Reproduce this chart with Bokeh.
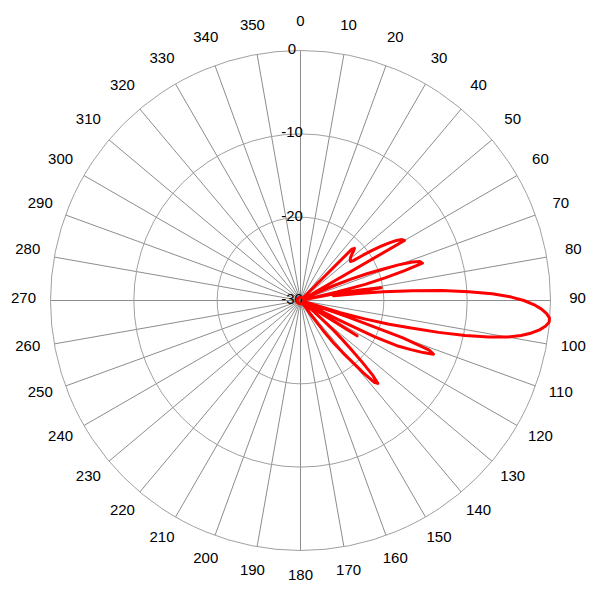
import math
from bokeh.plotting import figure
from bokeh.models import Range1d
from bokeh.core.properties import value
from bokeh.embed import file_html
from bokeh.resources import INLINE

# ---- data ----
ANGLE_DEG = [0, 10, 20, 30, 40, 41, 42, 43, 44, 45, 46, 47, 48, 49,
             50, 51, 52, 53, 54, 55, 56, 57, 58, 59,
             60, 61, 62, 63, 64, 65, 66, 67, 68, 69,
             70, 71, 72, 73, 74, 75, 76, 77, 78, 79,
             80, 81, 82, 83, 84, 85, 86, 87, 88, 89,
             90, 91, 92, 93, 94, 95, 96, 97, 98, 99,
             100, 101, 102, 103, 104, 105, 106, 107, 108, 109,
             110, 111, 112, 113, 114, 115, 116, 117, 118, 119,
             120, 121, 122, 123, 124, 125, 126, 127, 128, 129,
             130, 131, 132, 133, 134, 135, 136, 137, 138, 139,
             140, 141, 142, 143, 144, 145, 146,
             150, 160, 170, 180, 190, 200, 210, 220, 230, 240,
             250, 260, 270, 280, 290, 300, 310, 320, 330, 340, 350, 360]
GAIN_DB = [-29.6, -29.6, -29.6, -29.6, -29.6, -29.6, -29.6, -29.6, -29.5, -21.3, -21.0, -21.3, -21.7, -22.0,
           -22.2, -22.3, -22.4, -22.0, -20.8, -19.5, -18.4, -17.3, -16.4, -15.8,
           -15.6, -29.5, -29.6, -29.6, -29.6, -28.0, -25.5, -23.5, -21.5, -19.8,
           -17.5, -15.8, -14.9, -14.7, -17.0, -19.5, -22.0, -25.5, -29.5, -26.0,
           -22.5, -20.2, -26.0, -23.0, -20.0, -16.5, -13.0, -9.8, -7.0, -4.8,
           -3.2, -2.0, -1.1, -0.45, -0.05, -0.05, -0.45, -1.1, -2.0, -3.2,
           -4.8, -7.0, -9.8, -13.0, -16.5, -19.0, -22.0, -25.0, -29.5, -24.0,
           -17.0, -13.5, -12.8, -14.0, -15.5, -17.0, -20.0, -25.0, -29.5, -29.6,
           -29.6, -28.0, -22.0, -29.0, -29.6, -29.6, -29.6, -29.6, -29.6, -29.6,
           -28.0, -26.5, -24.6, -23.2, -21.5, -19.5, -17.5, -16.4, -16.8, -18.5,
           -20.5, -22.0, -23.5, -25.5, -28.0, -29.6, -29.6,
           -29.6, -29.6, -29.6, -29.6, -29.6, -29.6, -29.6, -29.6, -29.6, -29.6,
           -29.6, -29.6, -29.6, -29.6, -29.6, -29.6, -29.6, -29.6, -29.6, -29.6, -29.6, -29.6]

RING_DB = [0, -10, -20, -30]
RING_LABELS = ["0", "-10", "-20", "-30"]
SPOKE_DEG = [0, 10, 20, 30, 40, 50, 60, 70, 80, 90, 100, 110, 120, 130, 140, 150, 160, 170,
             180, 190, 200, 210, 220, 230, 240, 250, 260, 270, 280, 290, 300, 310, 320, 330, 340, 350]
SPOKE_LABELS = [str(a) for a in SPOKE_DEG]

DB_MIN, DB_MAX = -30.0, 0.0
R_OUT = 250.0          # pixel radius of the 0 dB ring
LABEL_R = 277.0
FONT = value("Liberation Sans")


def rad(db):
    return (db - DB_MIN) / (DB_MAX - DB_MIN) * R_OUT


p = figure(width=600, height=600, output_backend="svg", toolbar_location=None,
           x_range=Range1d(-300, 300), y_range=Range1d(-300, 300),
           x_axis_type=None, y_axis_type=None, min_border=0)
p.outline_line_color = None
p.grid.visible = False
p.background_fill_color = "white"
p.border_fill_color = "white"

# spokes
sx = [R_OUT * math.sin(math.radians(a)) for a in SPOKE_DEG]
sy = [R_OUT * math.cos(math.radians(a)) for a in SPOKE_DEG]
p.segment(x0=[0] * len(sx), y0=[0] * len(sy), x1=sx, y1=sy, line_color="#6e6e6e", line_width=0.8)

# rings
ring_r = [rad(d) for d in RING_DB if rad(d) > 0]
p.circle(x=[0] * len(ring_r), y=[0] * len(ring_r), radius=ring_r,
         fill_color=None, line_color="#a0a0a0", line_width=1)

# angle labels
lx = [LABEL_R * math.sin(math.radians(a)) for a in SPOKE_DEG]
ly = [LABEL_R * math.cos(math.radians(a)) + 3 for a in SPOKE_DEG]
p.text(x=lx, y=ly, text=SPOKE_LABELS, text_font=FONT, text_font_size="15px",
       text_align="center", text_baseline="middle", text_color="black")

# radial labels
rx = [-8.5] * len(RING_DB)
ry = [rad(d) + 1.5 for d in RING_DB]
p.text(x=rx, y=ry, text=RING_LABELS, text_font=FONT, text_font_size="15px",
       text_align="center", text_baseline="middle", text_color="black")

# pattern
px = [rad(g) * math.sin(math.radians(a)) for a, g in zip(ANGLE_DEG, GAIN_DB)]
py = [rad(g) * math.cos(math.radians(a)) for a, g in zip(ANGLE_DEG, GAIN_DB)]
p.line(px, py, line_color="#ff0000", line_width=3, line_join="round")

open("out.html", "w").write(file_html(p, INLINE))
